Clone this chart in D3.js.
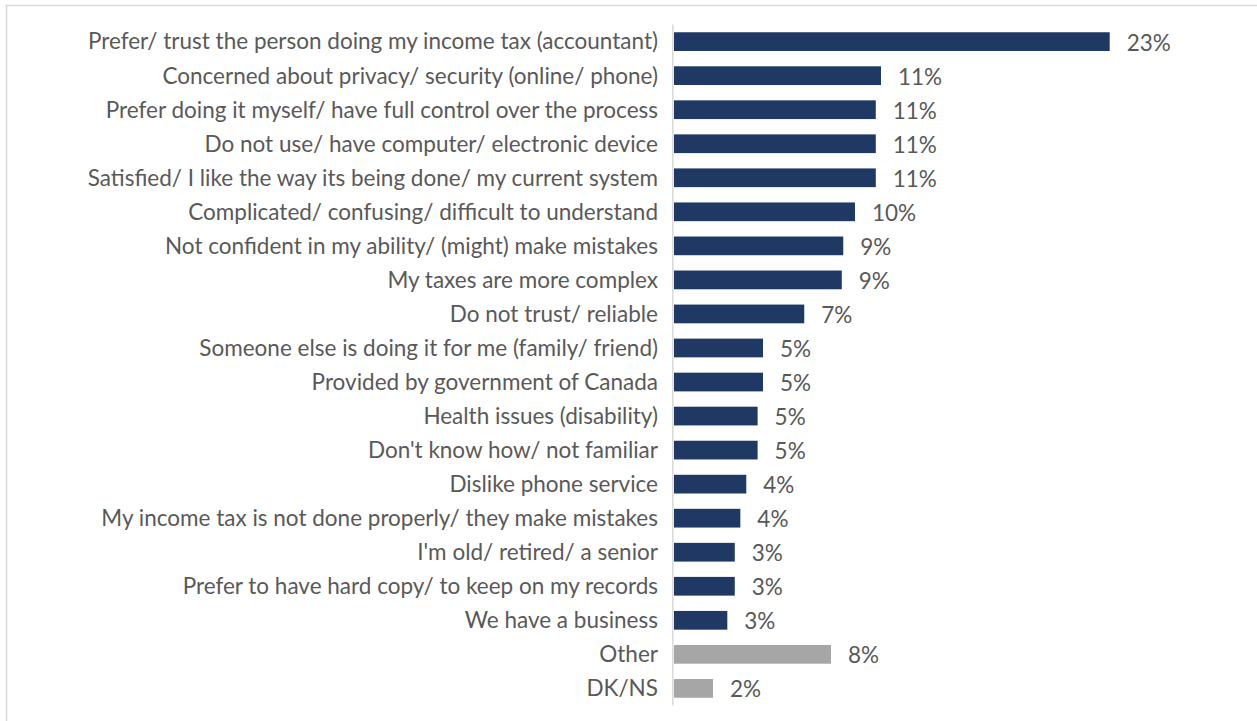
<!DOCTYPE html>
<html>
<head>
<meta charset="utf-8">
<script src="https://cdn.jsdelivr.net/npm/d3@7"></script>
<style>
  html, body { margin: 0; padding: 0; background: #fff; }
  svg { display: block; }
  text { font-family: Lato, "Open Sans", sans-serif; fill: #595959; }
</style>
</head>
<body>
<svg id="chart" width="1257" height="721"></svg>
<script>
// Reasons given, in display order (top to bottom)
const categories = [
  "Prefer/ trust the person doing my income tax (accountant)",
  "Concerned about privacy/ security (online/ phone)",
  "Prefer doing it myself/ have full control over the process",
  "Do not use/ have computer/ electronic device",
  "Satisfied/ I like the way its being done/ my current system",
  "Complicated/ confusing/ difficult to understand",
  "Not confident in my ability/ (might) make mistakes",
  "My taxes are more complex",
  "Do not trust/ reliable",
  "Someone else is doing it for me (family/ friend)",
  "Provided by government of Canada",
  "Health issues (disability)",
  "Don't know how/ not familiar",
  "Dislike phone service",
  "My income tax is not done properly/ they make mistakes",
  "I'm old/ retired/ a senior",
  "Prefer to have hard copy/ to keep on my records",
  "We have a business",
  "Other",
  "DK/NS"
];

// Share of respondents (%)
const values = [
  23.45, 11.14, 10.86, 10.86, 10.86, 9.74, 9.11, 9.03, 7.01, 4.79,
  4.79, 4.50, 4.50, 3.89, 3.57, 3.27, 3.27, 2.87, 8.45, 2.10
];

// Residual answers shown in grey
const residual = ["Other", "DK/NS"];

const data = categories.map((c, i) => ({ category: c, value: values[i] }));

const svg = d3.select("#chart");

// Outer frame (open on the right and bottom edges of the page)
svg.append("rect")
  .attr("x", 6.5).attr("y", 5.5)
  .attr("width", 1400).attr("height", 900)
  .attr("fill", "none")
  .attr("stroke", "#d9d9d9")
  .attr("stroke-width", 1.5);

const x0 = 674;
const x = d3.scaleLinear().domain([0, 23.45]).range([x0, 1109.7]);
const y = d3.scaleBand()
  .domain(categories)
  .range([24.6, 705.4])
  .paddingInner(0.45)
  .paddingOuter(0.225);

// Category axis line
svg.append("line")
  .attr("x1", x0 - 1.2).attr("x2", x0 - 1.2)
  .attr("y1", y.range()[0]).attr("y2", y.range()[1])
  .attr("stroke", "#d9d9d9")
  .attr("stroke-width", 1.5);

// Bars
svg.append("g").selectAll("rect")
  .data(data)
  .join("rect")
  .attr("x", x(0))
  .attr("y", d => y(d.category))
  .attr("width", d => x(d.value) - x(0))
  .attr("height", y.bandwidth())
  .attr("fill", d => residual.includes(d.category) ? "#a6a6a6" : "#1f3864");

// Category labels
svg.append("g").selectAll("text")
  .data(data)
  .join("text")
  .attr("x", x0 - 16)
  .attr("y", d => y(d.category) + y.bandwidth() / 2)
  .attr("dy", "0.35em")
  .attr("text-anchor", "end")
  .attr("font-size", 22.5)
  .text(d => d.category);

// Value labels
const fmt = v => Math.round(v) + "%";
svg.append("g").selectAll("text")
  .data(data)
  .join("text")
  .attr("x", d => x(d.value) + 17)
  .attr("y", d => y(d.category) + y.bandwidth() / 2)
  .attr("dy", "0.40em")
  .attr("font-size", 22.5)
  .text(d => fmt(d.value));
</script>
</body>
</html>
